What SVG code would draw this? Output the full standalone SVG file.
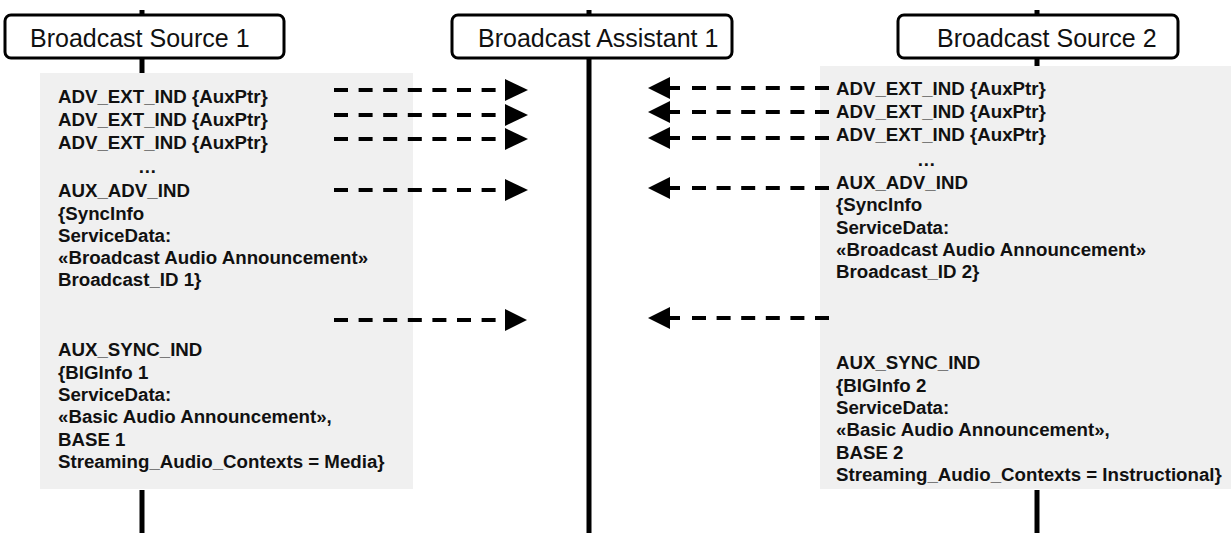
<svg xmlns="http://www.w3.org/2000/svg" width="1231" height="533" viewBox="0 0 1231 533">
<style>
.bg{fill:#f0f0f0}
.life{stroke:#000;stroke-width:5}
.box{fill:#fff;stroke:#000;stroke-width:3}
.title{font-family:"Liberation Sans",Arial,sans-serif;font-size:25px;fill:#111}
.msg{font-family:"Liberation Sans",Arial,sans-serif;font-size:18.7px;font-weight:bold;fill:#111}
.dash{stroke:#000;stroke-width:4;stroke-dasharray:14 10.6;fill:none}
.solid{stroke:#000;stroke-width:4;fill:none}
.head{fill:#000}
</style>
<rect width="1231" height="533" fill="#fff"/>
<rect class="bg" x="40" y="73" width="373" height="416"/>
<rect class="bg" x="820" y="66" width="411" height="423"/>
<g id="lifelines">
<line class="life" x1="142" y1="10" x2="142" y2="73"/>
<line class="life" x1="142" y1="490" x2="142" y2="533"/>
<line class="life" x1="589" y1="10" x2="589" y2="533"/>
<line class="life" x1="1037" y1="10" x2="1037" y2="66"/>
<line class="life" x1="1037" y1="490" x2="1037" y2="533"/>
</g>
<g id="source1">
<rect class="box" x="5" y="15" width="279" height="43" rx="6"/>
<text class="title" x="30" y="46.5">Broadcast Source 1</text>
</g>
<g id="assistant1">
<rect class="box" x="452" y="15" width="280" height="43" rx="6"/>
<text class="title" x="478" y="46.5">Broadcast Assistant 1</text>
</g>
<g id="source2">
<rect class="box" x="898" y="15" width="280" height="43" rx="6"/>
<text class="title" x="937" y="46.5">Broadcast Source 2</text>
</g>
<g id="source1-msgs" class="msg">
<text x="58" y="103">ADV_EXT_IND {AuxPtr}</text>
<text x="58" y="126">ADV_EXT_IND {AuxPtr}</text>
<text x="58" y="148.5">ADV_EXT_IND {AuxPtr}</text>
<text x="138" y="173">…</text>
<text x="58" y="197">AUX_ADV_IND</text>
<text x="58" y="219.5">{SyncInfo</text>
<text x="58" y="242">ServiceData:</text>
<text x="58" y="264">«Broadcast Audio Announcement»</text>
<text x="58" y="286">Broadcast_ID 1}</text>
<text x="58" y="356">AUX_SYNC_IND</text>
<text x="58" y="378.5">{BIGInfo 1</text>
<text x="58" y="401">ServiceData:</text>
<text x="58" y="423">«Basic Audio Announcement»,</text>
<text x="58" y="445.5">BASE 1</text>
<text x="58" y="468">Streaming_Audio_Contexts = Media}</text>
</g>
<g id="source2-msgs" class="msg">
<text x="836" y="95">ADV_EXT_IND {AuxPtr}</text>
<text x="836" y="118">ADV_EXT_IND {AuxPtr}</text>
<text x="836" y="141">ADV_EXT_IND {AuxPtr}</text>
<text x="917" y="166">…</text>
<text x="836" y="189">AUX_ADV_IND</text>
<text x="836" y="211.3">{SyncInfo</text>
<text x="836" y="233.6">ServiceData:</text>
<text x="836" y="256">«Broadcast Audio Announcement»</text>
<text x="836" y="278">Broadcast_ID 2}</text>
<text x="836" y="369">AUX_SYNC_IND</text>
<text x="836" y="391.5">{BIGInfo 2</text>
<text x="836" y="414">ServiceData:</text>
<text x="836" y="436">«Basic Audio Announcement»,</text>
<text x="836" y="458.5">BASE 2</text>
<text x="836" y="481">Streaming_Audio_Contexts = Instructional}</text>
</g>
<g id="connectors">
<line class="dash" x1="334" y1="90" x2="498" y2="90"/>
<polygon class="head" points="505,79 528,90 505,101"/>
<line class="dash" x1="334" y1="115" x2="498" y2="115"/>
<polygon class="head" points="505,104 528,115 505,126"/>
<line class="dash" x1="334" y1="139" x2="498" y2="139"/>
<polygon class="head" points="505,128 528,139 505,150"/>
<line class="dash" x1="334" y1="190" x2="498" y2="190"/>
<polygon class="head" points="505,179 528,190 505,201"/>
<line class="dash" x1="334" y1="320" x2="498" y2="320"/>
<polygon class="head" points="505,309 527,320 505,331"/>

<line class="solid" x1="660" y1="88" x2="680" y2="88"/>
<line class="dash" x1="692" y1="88" x2="832" y2="88"/>
<polygon class="head" points="648,88 670,77 670,99"/>
<line class="solid" x1="660" y1="112" x2="680" y2="112"/>
<line class="dash" x1="692" y1="112" x2="832" y2="112"/>
<polygon class="head" points="648,112 670,101 670,123"/>
<line class="solid" x1="660" y1="138" x2="680" y2="138"/>
<line class="dash" x1="692" y1="138" x2="832" y2="138"/>
<polygon class="head" points="648,138 670,127 670,149"/>
<line class="solid" x1="660" y1="188" x2="680" y2="188"/>
<line class="dash" x1="692" y1="188" x2="832" y2="188"/>
<polygon class="head" points="648,188 670,177 670,199"/>
<line class="solid" x1="660" y1="318" x2="680" y2="318"/>
<line class="dash" x1="692" y1="318" x2="832" y2="318"/>
<polygon class="head" points="648,318 670,307 670,329"/>
</g>
</svg>
